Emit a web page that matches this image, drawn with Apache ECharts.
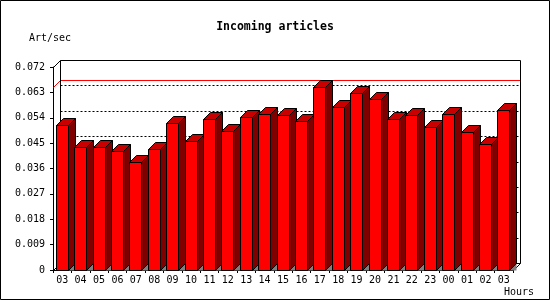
<!DOCTYPE html>
<html>
<head>
<meta charset="utf-8">
<script src="https://cdn.jsdelivr.net/npm/echarts@6/dist/echarts.min.js"></script>
<style>html,body{margin:0;padding:0;background:#fff;}#c{width:550px;height:300px;}</style>
</head>
<body>
<div id="c"></div>
<script>
const categories = ['03','04','05','06','07','08','09','10','11','12','13','14','15','16','17','18','19','20','21','22','23','00','01','02','03'];
const values = [0.0513,0.0435,0.0435,0.0422,0.0384,0.0429,0.0520,0.0456,0.0536,0.0492,0.0542,0.0552,0.0549,0.0527,0.0648,0.0577,0.0627,0.0606,0.0535,0.0549,0.0506,0.0552,0.0488,0.0446,0.0566];
const yTicks = [0,0.009,0.018,0.027,0.036,0.045,0.054,0.063,0.072];
const titleText = 'Incoming articles';
const yName = 'Art/sec';
const xName = 'Hours';

const D = 7;
const FONT = 'DejaVu Sans Mono';
const px = v => Math.round(v) + 0.5;
const maxVal = Math.max.apply(null, values);

function renderFrame(params, api) {
  const cs = params.coordSys;
  const L = px(cs.x), R = px(cs.x + cs.width), T = px(cs.y), B = px(cs.y + cs.height);
  const ch = [];
  const line = (pts, stroke, dash) => ch.push({type:'polyline', shape:{points:pts}, style:{stroke:stroke, lineWidth:1, fill:null, lineDash:dash||null}, silent:true});
  // dotted grid lines on back wall
  yTicks.forEach(t => {
    if (t <= yTicks[0] || t >= yTicks[yTicks.length-1]) return;
    const y = px(api.coord([0, t])[1]) - D;
    line([[L+D, y],[R+D, y]], '#000', [2,2]);
  });
  // max line
  const ym = px(api.coord([0, maxVal])[1]);
  line([[L, ym],[L+D, ym-D],[R+D, ym-D]], '#ff0000');
  // back wall frame
  line([[L+D, B-D],[L+D, T-D],[R+D, T-D],[R+D, B-D],[L+D, B-D]], '#000');
  line([[L, T],[L+D, T-D]], '#000');
  line([[L, B],[L+D, B-D]], '#000');
  line([[R, B],[R+D, B-D]], '#000');
  return {type:'group', children: ch};
}

function renderBar(params, api) {
  const idx = api.value(0), v = api.value(1);
  const p = api.coord([idx, v]);
  const p0 = api.coord([idx, 0]);
  const band = api.size([1, 0])[0];
  const bw = Math.round(band * 0.65);
  const xl = Math.floor(p[0] - bw/2) + 0.5;
  const xr = xl + bw;
  const yt = px(p[1]);
  const y0 = px(p0[1]);
  const st = {stroke:'#000', lineWidth:1};
  return {type:'group', children:[
    {type:'polygon', shape:{points:[[xr, y0],[xr+D, y0-D],[xr+D, y0]]}, style:{fill:'#808080'}},
    {type:'polygon', shape:{points:[[xl, yt],[xr, yt],[xr, y0],[xl, y0]]}, style:Object.assign({fill:'#ff0000'}, st)},
    {type:'polygon', shape:{points:[[xl, yt],[xl+D, yt-D],[xr+D, yt-D],[xr, yt]]}, style:Object.assign({fill:'#c80000'}, st)},
    {type:'polygon', shape:{points:[[xr, yt],[xr+D, yt-D],[xr+D, y0-D],[xr, y0]]}, style:Object.assign({fill:'#800000'}, st)}
  ]};
}

const chart = echarts.init(document.getElementById('c'), null, {renderer:'canvas'});
chart.setOption({
  animation: false,
  backgroundColor: '#fff',
  title: {
    text: titleText, left: 'center', top: 16,
    textStyle: {fontFamily: FONT, fontWeight: 'bold', fontSize: 11.5, color: '#000'}
  },
  grid: {left: 53, right: 37, top: 67, bottom: 30, containLabel: false},
  xAxis: {
    type: 'category', data: categories,
    name: xName, nameLocation: 'end', nameGap: 21,
    nameTextStyle: {fontFamily: FONT, fontSize: 10, color: '#000', align: 'right', verticalAlign: 'top', padding: [17,0,0,0]},
    axisLine: {lineStyle: {color: '#000', width: 1}},
    axisTick: {show: true, length: 3, interval: 0, lineStyle: {color: '#000'}},
    axisLabel: {interval: 0, margin: 5, fontFamily: FONT, fontSize: 10, color: '#000'},
    splitLine: {show: false}
  },
  yAxis: {
    type: 'value', min: 0, max: 0.072, interval: 0.009,
    name: yName, nameLocation: 'end', nameGap: 24,
    nameTextStyle: {fontFamily: FONT, fontSize: 10, color: '#000', padding: [0, 6, 0, 0]},
    axisLine: {show: true, lineStyle: {color: '#000', width: 1}},
    axisTick: {show: true, length: 3, lineStyle: {color: '#000'}},
    axisLabel: {margin: 8, fontFamily: FONT, fontSize: 10, color: '#000',
      formatter: v => v === 0 ? '0' : v.toFixed(3)},
    splitLine: {show: false}
  },
  graphic: [{type:'rect', shape:{x:0.5, y:0.5, width:549, height:299}, style:{fill:'none', stroke:'#000', lineWidth:1}, silent:true, z:100}],
  series: [
    {type:'custom', name:'frame', renderItem: renderFrame, data: [[0, 0]], clip: false, silent: true, z: 1, encode:{x:0, y:1}},
    {type:'custom', name:'bars', renderItem: renderBar, data: values.map((v, i) => [i, v]), clip: false, silent: true, z: 2, encode:{x:0, y:1}}
  ]
});
</script>
</body>
</html>
